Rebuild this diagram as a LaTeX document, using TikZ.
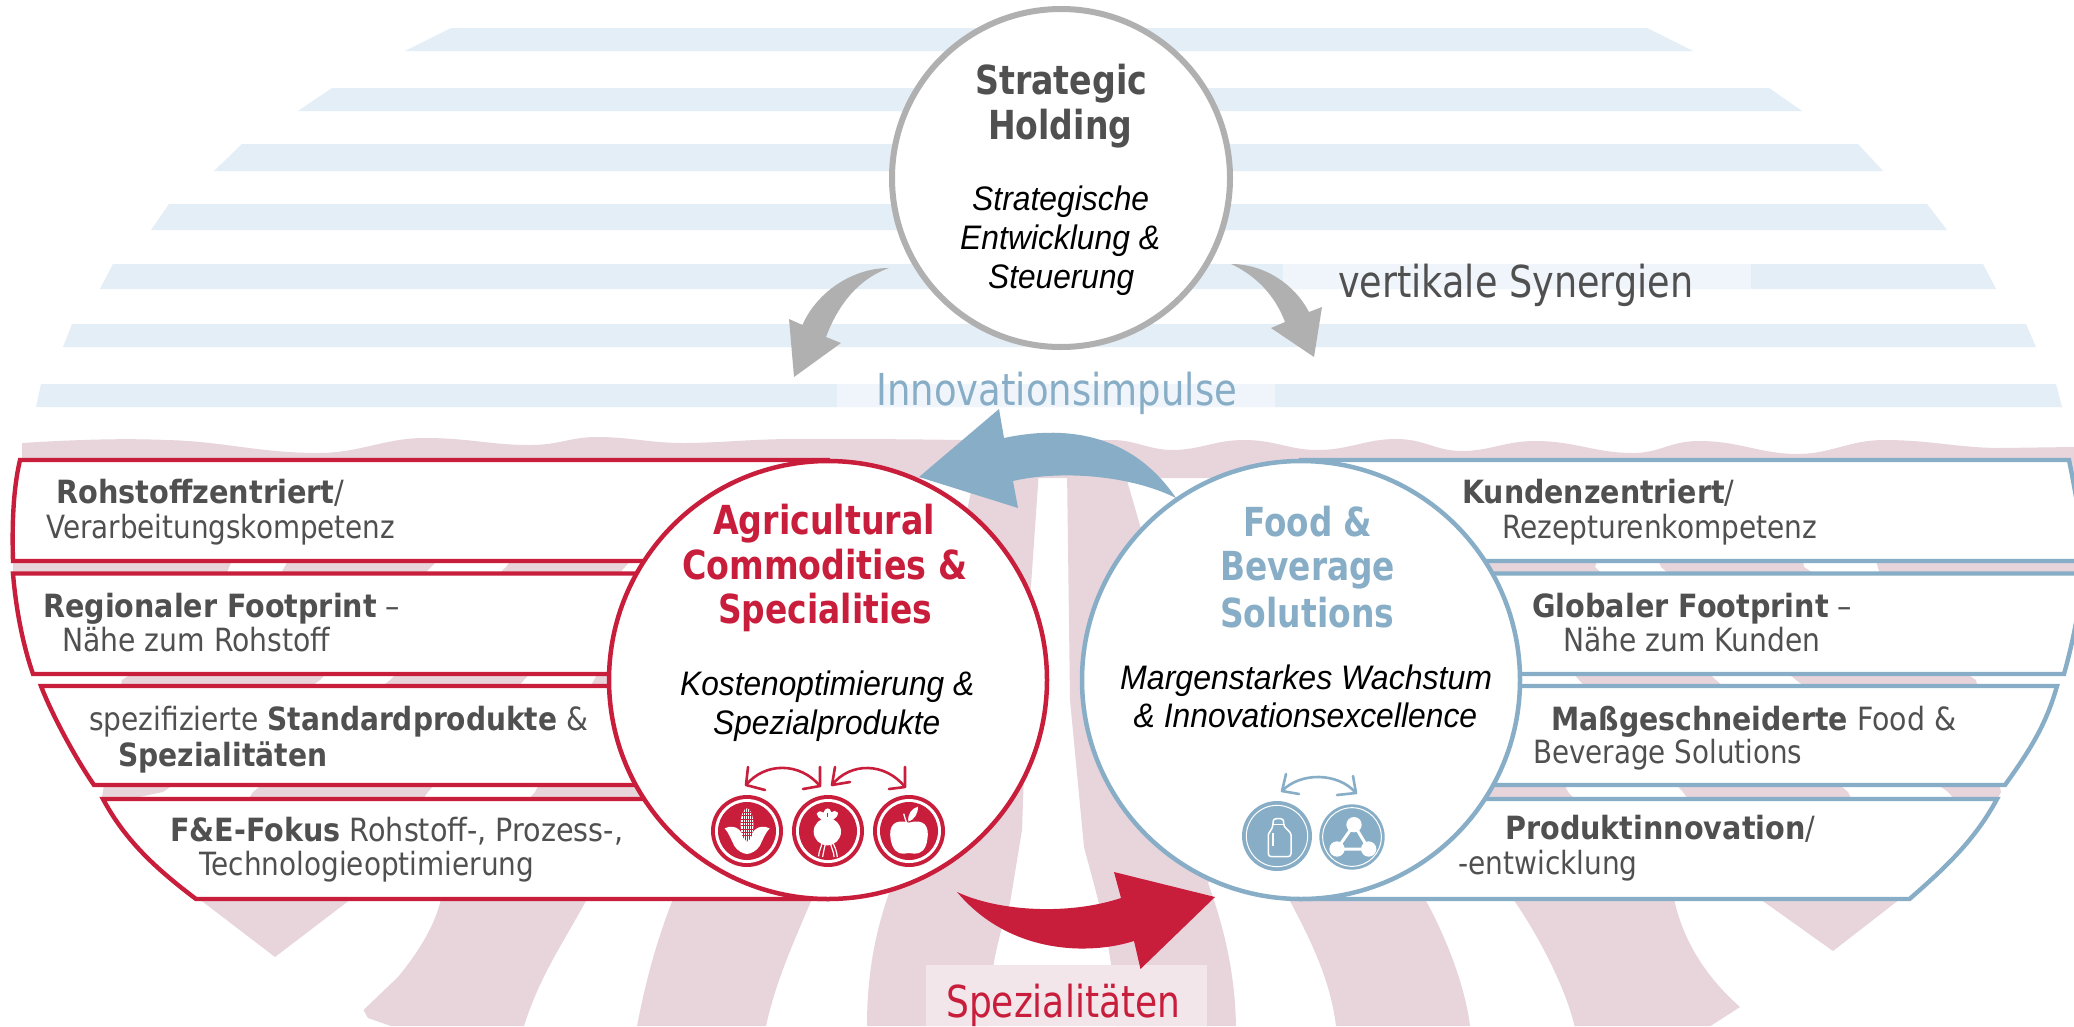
\documentclass[tikz,border=0pt]{standalone}
\usepackage{fontspec}
\usepackage{graphicx}
\newfontfamily\tah{DejaVu Sans}
\newfontfamily\ari{Liberation Sans}
\definecolor{rd}{HTML}{C81E3C}
\definecolor{bl}{HTML}{87AEC6}
\definecolor{dk}{HTML}{505050}
\definecolor{gy}{HTML}{B0B0B0}
\definecolor{pk}{HTML}{E8D5DC}
\definecolor{pkl}{HTML}{F2E6EB}
\definecolor{sb}{HTML}{E4EEF7}
\definecolor{sbl}{HTML}{F0F5FB}
\newcommand{\fw}[2]{\resizebox{#1pt}{\height}{#2}}
\tikzset{
  lab/.style={inner sep=0pt,anchor=base west,text=dk,font=\tah\fontsize{32}{34}\selectfont},
  head/.style={inner sep=0pt,anchor=base west,font=\tah\bfseries\fontsize{40}{44}\selectfont},
  ital/.style={inner sep=0pt,anchor=base west,text=black,font=\ari\itshape\fontsize{34}{36}\selectfont},
  big/.style={inner sep=0pt,anchor=base west,font=\tah\fontsize{44}{48}\selectfont},
  disc/.style={circle,draw,line width=4.5pt,fill=white,inner sep=0pt},
  bar/.style={line width=4.4pt,fill=white,line join=miter},
  pinkfill/.style={fill=pk,draw=none},
  rowfill/.style={fill=sb,draw=none},
  minor/.style={line width=2.6pt,line cap=round,line join=round}
}
\begin{document}
\begin{tikzpicture}[x=1pt,y=-1pt]
\path[use as bounding box] (0,0) rectangle (2074,1026);
\fill[white] (0,0) rectangle (2074,1026);
% blue rows
\fill[rowfill] (451,28) -- (1647,28) -- (1693,51) -- (405,51) -- cycle;
\fill[rowfill] (332,88) -- (1769,88) -- (1802,111) -- (298,111) -- cycle;
\fill[rowfill] (242,144) -- (1858,144) -- (1883,171) -- (214,171) -- cycle;
\fill[rowfill] (169,204) -- (1927,204) -- (1947,230) -- (151,230) -- cycle;
\fill[rowfill] (113,264) -- (1983,264) -- (1996,289) -- (100,289) -- cycle;
\fill[rowfill] (72,324) -- (2026,324) -- (2036,347) -- (63,347) -- cycle;
\fill[rowfill] (41,384) -- (2056,384) -- (2062,407) -- (36,407) -- cycle;
\fill[sbl] (1283,264) rectangle (1751,289);
\fill[sbl] (837,384) rectangle (1275,407);
% pink wave band
\path[pinkfill] (22,443) .. controls (70,440) and (120,438) .. (166,440)
  .. controls (220,441) and (260,453) .. (318,453)
  .. controls (360,453) and (385,438) .. (424,438)
  .. controls (470,438) and (490,445) .. (530,445)
  .. controls (560,445) and (570,437) .. (597,437)
  .. controls (630,437) and (650,443) .. (683,443)
  .. controls (720,443) and (750,439) .. (796,439)
  .. controls (850,439) and (900,439) .. (960,440)
  .. controls (1040,441) and (1080,440) .. (1112,440)
  .. controls (1135,440) and (1150,450) .. (1172,450)
  .. controls (1200,450) and (1215,440) .. (1244,440)
  .. controls (1275,440) and (1290,450) .. (1317,450)
  .. controls (1350,450) and (1365,439) .. (1396,439)
  .. controls (1425,439) and (1435,451) .. (1462,451)
  .. controls (1490,451) and (1505,441) .. (1535,441)
  .. controls (1575,441) and (1595,453) .. (1633,453)
  .. controls (1660,453) and (1670,441) .. (1699,441)
  .. controls (1740,441) and (1760,454) .. (1798,454)
  .. controls (1830,454) and (1850,440) .. (1884,440)
  .. controls (1930,440) and (1960,448) .. (2000,448)
  -- (2074,447) -- (2074,478) -- (22,478) -- cycle;
\path[pinkfill] (22,470) rectangle (700,490);
% gap 1 ends
\path[pinkfill] (13,540) -- (240,540) -- (226,575) -- (13,575) -- cycle;
\path[pinkfill] (1870,540) -- (2074,540) -- (2074,575) -- (1880,575) -- cycle;
% left stripes
\path[pinkfill] (300,540) -- (450,540) -- (437,561) -- (320,680) -- (163,792) -- (120,801) -- (102,797) -- (122,680) -- (280,575) -- cycle;
\path[pinkfill] (525,540) -- (650,540) -- (625,567) -- (524,680) -- (428,792) -- (351,899) -- (275,957) -- (190,892) -- (253,792) -- (390,680) -- (506,567) -- cycle;
\path[pinkfill] (441,899) -- (535,792) -- (594,680) -- (660,560) -- (760,560) -- (720,800) -- (587,899) .. controls (565,940) and (540,975) .. (524,1026) -- (391,1026) -- (368,1018) -- (363.5,1010) -- (398,977) .. controls (420,950) and (435,925) .. (441,899) -- cycle;
\path[pinkfill] (690,850) -- (830,850) -- (812,899) .. controls (790,950) and (775,985) .. (766,1026) -- (637,1026) .. controls (645,985) and (655,945) .. (673,899) -- cycle;
\path[pinkfill] (975,470) -- (1039,470) -- (1030,600) -- (1022,830) -- (1010,903) .. controls (1000,930) and (988,975) .. (988,1026) -- (867,1026) .. controls (867,975) and (875,935) .. (887,899) -- (900,860) -- (950,600) -- cycle;
\path[pinkfill] (1067,470) -- (1124,470) -- (1150,560) -- (1220,870) -- (1208,883) .. controls (1225,930) and (1235,975) .. (1236,1026) -- (1116,1026) .. controls (1115,950) and (1095,890) .. (1084,847) -- (1070,700) -- cycle;
% right stripes
\path[pinkfill] (1289,899) -- (1270,840) -- (1400,800) -- (1425,899) .. controls (1445,935) and (1465,985) .. (1470,1026) -- (1336,1026) .. controls (1330,975) and (1305,930) .. (1289,899) -- cycle;
\path[pinkfill] (1400,560) -- (1480,560) -- (1514,680) -- (1568,792) -- (1674,899) .. controls (1685,950) and (1715,985) .. (1740,1007) -- (1710.5,1026) -- (1574.5,1026) .. controls (1565,985) and (1535,930) .. (1513,899) -- (1420,800) -- cycle;
\path[pinkfill] (1470,540) -- (1605,540) -- (1595,567) -- (1716,680) -- (1848,792) -- (1900,899) -- (1833,951) -- (1760,899) -- (1683,792) -- (1579,680) -- (1483,567) -- cycle;
\path[pinkfill] (1650,540) -- (1800,540) -- (1804,567) -- (1976,680) -- (2001,792) -- (1997,800) -- (1955,800) -- (1948,792) -- (1796,680) -- (1661,567) -- cycle;
\fill[pkl] (926,965) rectangle (1207,1026);
% left bars
\draw[bar,draw=rd] (20,460) .. controls (13,490) and (12,525) .. (13,561) -- (828,561) -- (828,460) -- cycle;
\draw[bar,draw=rd] (13,573.5) .. controls (16,610) and (23,645) .. (33,674) -- (828,674) -- (828,573.5) -- cycle;
\draw[bar,draw=rd] (41,686) .. controls (48,705) and (70,750) .. (94,785) -- (828,785) -- (828,686) -- cycle;
\draw[bar,draw=rd] (103,799) .. controls (125,840) and (155,868) .. (196,899) -- (828,899) -- (828,799) -- cycle;
% right bars
\draw[bar,draw=bl] (2069,460) .. controls (2075,490) and (2082,525) .. (2082,561) -- (1301,561) -- (1301,460) -- cycle;
\draw[bar,draw=bl] (2082,573.5) .. controls (2080,610) and (2072,645) .. (2064,674) -- (1301,674) -- (1301,573.5) -- cycle;
\draw[bar,draw=bl] (2057,686) .. controls (2046,725) and (2030,750) .. (2005,785) -- (1301,785) -- (1301,686) -- cycle;
\draw[bar,draw=bl] (1997,799) .. controls (1975,840) and (1945,868) .. (1909.5,899) -- (1301,899) -- (1301,799) -- cycle;
% discs
\node[disc,draw=gy,line width=6pt,minimum size=338pt] (hold) at (1061,178) {};
\node[disc,draw=rd,minimum size=438pt] (agri) at (828,680) {};
\node[disc,draw=bl,minimum size=438pt] (food) at (1301,680) {};
% arrows
\fill[gy] (889,268) .. controls (850,268) and (815,295) .. (802.5,325) -- (789,319) -- (794,377) -- (841,343) -- (826,337) .. controls (836,310) and (855,280) .. (889,268) -- cycle;
\fill[gy] (1231,264) .. controls (1265,264) and (1295,285) .. (1309,312) -- (1322,307) -- (1314,357) -- (1271,328) -- (1285,322) .. controls (1275,295) and (1255,275) .. (1231,264) -- cycle;
\fill[bl] (919,477) -- (999,409) -- (1004,438) .. controls (1060,426) and (1130,430) .. (1176,498) .. controls (1130,475) and (1060,470) .. (1013,481) -- (1018,508) -- cycle;
\fill[rd] (957,892) .. controls (1000,912) and (1070,915) .. (1121,898) -- (1114,872) -- (1215,897) -- (1140.5,969) -- (1134,941) .. controls (1090,955) and (1010,955) .. (957,892) -- cycle;
% small arrows, red
\draw[rd,minor] (746,785) .. controls (765,762) and (800,762) .. (820,786);
\draw[rd,minor] (748,767) -- (746,785) -- (765,790);
\draw[rd,minor] (803,789) -- (820,786) -- (820,767);
\draw[rd,minor] (832,785) .. controls (850,762) and (885,762) .. (905,787);
\draw[rd,minor] (835,767) -- (832,785) -- (850,782);
\draw[rd,minor] (889,789) -- (905,787) -- (905,767);
% small arrows, blue
\draw[bl,minor] (1282,791) .. controls (1300,772) and (1338,772) .. (1356,793);
\draw[bl,minor] (1286,774) -- (1282,791) -- (1299,794);
\draw[bl,minor] (1353,776) -- (1356,793) -- (1337,795);
% corn icon
\begin{scope}[shift={(747,831)},scale=1/3,x=1pt,y=-1pt]
\fill[rd] (0,0) circle (108);
\fill[white] (0,0) circle (96);
\fill[rd] (0,0) circle (87);
\fill[white] (-67,-8) .. controls (-52,-16) and (-34,-14) .. (-24,-4) .. controls (-14,6) and (-6,18) .. (0,34) .. controls (6,18) and (14,6) .. (24,-4) .. controls (34,-14) and (52,-16) .. (68,-8) .. controls (55,5) and (48,25) .. (38,45) .. controls (28,60) and (12,68) .. (0,69) .. controls (-12,68) and (-28,60) .. (-38,45) .. controls (-48,25) and (-55,5) .. (-67,-8) -- cycle;
\begin{scope}
\clip (0,-19) ellipse (19 and 49);
\fill[white] (-30,-70) rectangle (30,30);
\foreach \yy in {-56,-46,...,14} \draw[rd,line width=.6pt] (-30,\yy) -- (30,\yy);
\foreach \xx in {-12,-6,...,12} \draw[rd,line width=.6pt] (\xx,-70) -- (\xx,30);
\end{scope}
\end{scope}
% radish icon
\begin{scope}[shift={(828,831)},scale=1/3,x=1pt,y=-1pt]
\fill[rd] (0,0) circle (108);
\fill[white] (0,0) circle (96);
\fill[rd] (0,0) circle (87);
\fill[white] (-2,2) circle (41);
\fill[white] (-34,-52) .. controls (-26,-62) and (-20,-60) .. (-14,-55) .. controls (-8,-72) and (6,-72) .. (10,-56) .. controls (16,-62) and (24,-62) .. (30,-55) .. controls (30,-44) and (22,-38) .. (14,-33) -- (-18,-33) .. controls (-26,-38) and (-34,-44) .. (-34,-52) -- cycle;
\draw[rd,line width=1pt] (-3,-55) -- (-3,-42);
\draw[white,line width=1.2pt] (-18,36) .. controls (-20,50) and (-28,60) .. (-28,76);
\draw[white,line width=1.2pt] (-8,40) .. controls (-12,55) and (-14,65) .. (-16,78);
\draw[white,line width=1.2pt] (8,40) .. controls (12,55) and (18,65) .. (18,78);
\draw[white,line width=1.2pt] (15,36) .. controls (22,50) and (26,62) .. (28,78);
\end{scope}
% apple icon
\begin{scope}[shift={(909,831)},scale=1/3,x=1pt,y=-1pt]
\fill[rd] (0,0) circle (108);
\fill[white] (0,0) circle (96);
\fill[rd] (0,0) circle (87);
\fill[white] (0,-25) .. controls (-45,-38) and (-62,-15) .. (-55,25) .. controls (-50,55) and (-35,70) .. (-15,68) .. controls (-8,66) and (8,66) .. (15,68) .. controls (35,70) and (52,55) .. (55,25) .. controls (62,-15) and (45,-38) .. (0,-25) -- cycle;
\draw[white,line width=1.3pt] (-16,-52) -- (-8,-26);
\fill[white] (-2,-28) .. controls (-5,-50) and (8,-68) .. (27,-73) .. controls (27,-50) and (15,-34) .. (-2,-28) -- cycle;
\end{scope}
% bottle icon
\begin{scope}[shift={(1277,836)},scale=1/3,x=1pt,y=-1pt]
\fill[bl] (0,0) circle (105);
\draw[white,line width=1pt] (0,0) circle (92);
\draw[white,line width=1.5pt,line join=round,rounded corners=3pt] (-12,-52) -- (20,-52) -- (20,-28) .. controls (34,-18) and (42,-8) .. (42,6) -- (42,62) -- (-26,62) -- (-26,6) .. controls (-26,-8) and (-18,-18) .. (-12,-28) -- cycle;
\draw[white,line width=1.5pt] (-12,-34) -- (20,-34);
\draw[white,line width=1.2pt] (-12,-8) -- (-12,30);
\end{scope}
% molecule icon
\begin{scope}[shift={(1352,837)},scale=1/3,x=1pt,y=-1pt]
\fill[bl] (0,0) circle (98);
\draw[white,line width=1pt] (0,0) circle (88);
\draw[white,line width=3pt,line join=round] (6,-37) -- (-45,36) -- (50,36) -- cycle;
\fill[white] (6,-37) circle (23);
\fill[white] (-45,36) circle (23);
\fill[white] (50,36) circle (23);
\end{scope}
% headings and texts
\node[head,text=dk] (t1) at (975,94) {\fw{172}{Strategic}};
\node[head,text=dk] (t2) at (988,139) {\fw{144}{Holding}};
\node[ital] (t3) at (972,210) {\fw{177}{Strategische}};
\node[ital] (t4) at (960,249) {\fw{200}{Entwicklung \&}};
\node[ital] (t5) at (988,288) {\fw{146}{Steuerung}};
\node[big,text=dk] (t6) at (1338,297) {\fw{355}{vertikale Synergien}};
\node[big,text=bl] (t7) at (876,405) {\fw{361}{Innovationsimpulse}};
\node[big,text=rd] (t8) at (946,1017) {\fw{234}{Spezialitäten}};
\node[head,text=rd] (a1) at (713,534) {\fw{222}{Agricultural}};
\node[head,text=rd] (a2) at (682,579) {\fw{285}{Commodities \&}};
\node[head,text=rd] (a3) at (718,623) {\fw{214}{Specialities}};
\node[ital] (a4) at (680,695) {\fw{294}{Kostenoptimierung \&}};
\node[ital] (a5) at (713,734) {\fw{227}{Spezialprodukte}};
\node[head,text=bl] (f1) at (1243,536) {\fw{129}{Food \&}};
\node[head,text=bl] (f2) at (1220,580) {\fw{175}{Beverage}};
\node[head,text=bl] (f3) at (1220,627) {\fw{174}{Solutions}};
\node[ital] (f4) at (1120,689) {\fw{372}{Margenstarkes Wachstum}};
\node[ital] (f5) at (1133.5,727) {\fw{343.5}{\& Innovationsexcellence}};
\node[lab] (l1) at (56,503) {\fw{288}{\textbf{Rohstoffzentriert}/}};
\node[lab] (l2) at (46,538) {\fw{349}{Verarbeitungskompetenz}};
\node[lab] (l3) at (43,617) {\fw{357}{\textbf{Regionaler Footprint} –}};
\node[lab] (l4) at (62,651) {\fw{268}{Nähe zum Rohstoff}};
\node[lab] (l5) at (89,730) {\fw{499}{spezifizierte \textbf{Standardprodukte} \&}};
\node[lab] (l6) at (118,766) {\fw{209}{\textbf{Spezialitäten}}};
\node[lab] (l7) at (170,841) {\fw{453}{\textbf{F\&E-Fokus} Rohstoff-, Prozess-,}};
\node[lab] (l8) at (199,875) {\fw{335}{Technologieoptimierung}};
\node[lab] (r1) at (1462,503) {\fw{272}{\textbf{Kundenzentriert}/}};
\node[lab] (r2) at (1502,538) {\fw{315}{Rezepturenkompetenz}};
\node[lab] (r3) at (1532,617) {\fw{320}{\textbf{Globaler Footprint} –}};
\node[lab] (r4) at (1563,651) {\fw{257}{Nähe zum Kunden}};
\node[lab] (r5) at (1551,730) {\fw{405}{\textbf{Maßgeschneiderte} Food \&}};
\node[lab] (r6) at (1533,763) {\fw{269}{Beverage Solutions}};
\node[lab] (r7) at (1505,839) {\fw{310}{\textbf{Produktinnovation}/}};
\node[lab] (r8) at (1458,874) {\fw{179.5}{-entwicklung}};
\end{tikzpicture}
\end{document}
